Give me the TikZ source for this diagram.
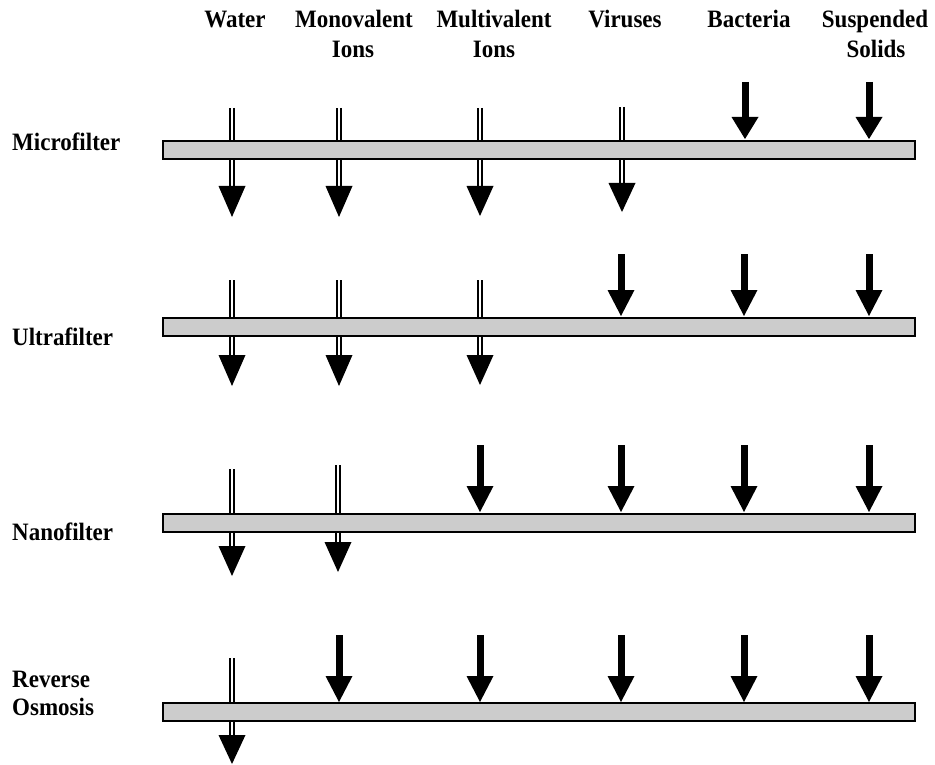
\documentclass[tikz,border=0pt]{standalone}
\usepackage{fontspec}
\setmainfont{Liberation Serif}[FakeStretch=0.92]
\definecolor{barfill}{HTML}{CCCCCC}
\newcommand\passarrow[4]{%
  \draw[passshaft] (#1,#2) -- (#1,#3+1);
  \fill[black] (#1-13.5,#3) -- (#1+13.5,#3) -- (#1,#4) -- cycle;}
\newcommand\blockarrow[4]{%
  \draw[line width=7pt] (#1,#2) -- (#1,#3+1);
  \fill[black] (#1-13.5,#3) -- (#1+13.5,#3) -- (#1,#4) -- cycle;}
\begin{document}
\begin{tikzpicture}[x=1pt,y=-1pt,
  bar/.style={draw=black, line width=1.6pt, fill=barfill, minimum width=752pt, minimum height=18pt, inner sep=0pt, anchor=north west},
  passshaft/.style={draw=black, line width=1.6pt, double=white, double distance=2.4pt},
  lbl/.style={font=\bfseries\fontsize{25}{29}\selectfont, inner sep=0pt, anchor=base west},
  hdr/.style={font=\bfseries\fontsize{25}{29}\selectfont, inner sep=0pt, anchor=base}]
\useasboundingbox (0,0) rectangle (935,765);

% headers
\node[hdr] (hwater) at (235,28) {Water};
\node[hdr] (hmono1) at (354,28) {Monovalent};
\node[hdr] (hmono2) at (353,58) {Ions};
\node[hdr] (hmulti1) at (494,28) {Multivalent};
\node[hdr] (hmulti2) at (494,58) {Ions};
\node[hdr] (hvir) at (625,28) {Viruses};
\node[hdr] (hbac) at (749,28) {Bacteria};
\node[hdr] (hsus1) at (875,28) {Suspended};
\node[hdr] (hsus2) at (876,58) {Solids};

% row labels
\node[lbl] (lmicro) at (12,151) {Microfilter};
\node[lbl] (lultra) at (12,345) {Ultrafilter};
\node[lbl] (lnano) at (12,540) {Nanofilter};
\node[lbl] (lrev1) at (12,687) {Reverse};
\node[lbl] (lrev2) at (12,715) {Osmosis};

% row 1: Microfilter
\passarrow{232}{108}{186}{217}
\passarrow{339}{108}{186}{217}
\passarrow{480}{108}{186}{216}
\passarrow{622}{107}{183}{212}
\node[bar] (bar1) at (162,140) {};
\blockarrow{745}{82}{117}{139}
\blockarrow{869}{82}{117}{139}

% row 2: Ultrafilter
\passarrow{232}{280}{355}{386}
\passarrow{339}{280}{355}{386}
\passarrow{480}{280}{355}{385}
\node[bar] (bar2) at (162,317) {};
\blockarrow{621}{254}{290}{316}
\blockarrow{744}{254}{290}{316}
\blockarrow{869}{254}{290}{316}

% row 3: Nanofilter
\passarrow{232}{469}{546}{576}
\passarrow{338}{465}{542}{572}
\node[bar] (bar3) at (162,513) {};
\blockarrow{480}{445}{486}{512}
\blockarrow{621}{445}{486}{512}
\blockarrow{744}{445}{486}{512}
\blockarrow{869}{445}{486}{512}

% row 4: Reverse Osmosis
\passarrow{232}{658}{735}{764}
\node[bar] (bar4) at (162,702) {};
\blockarrow{339}{635}{676}{702}
\blockarrow{480}{635}{676}{702}
\blockarrow{621}{635}{676}{702}
\blockarrow{744}{635}{676}{702}
\blockarrow{869}{635}{676}{702}
\end{tikzpicture}
\end{document}
